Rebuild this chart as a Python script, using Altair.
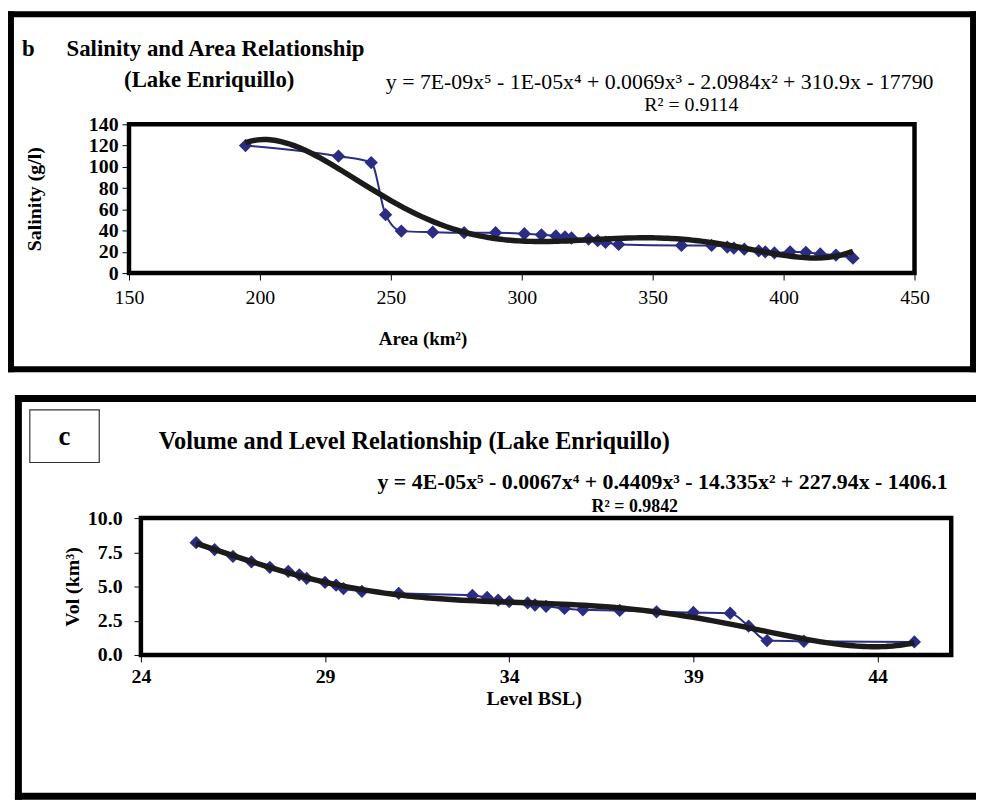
import altair as alt
import pandas as pd

# ---------------- data ----------------
# Panel b: Salinity vs Area
area = [194.5, 230, 242.5, 248, 254, 266, 278, 290, 301, 307.5, 313, 316.5, 319,
        325.5, 329, 332, 337, 361, 372.5, 378.5, 381, 385, 390.5, 393, 396.5,
        402.5, 408.5, 414, 420, 426.5]
salinity = [120, 110, 104, 55, 39.5, 38.5, 38, 38, 37, 36, 35, 34, 33,
            32, 30.5, 29, 27, 26, 26, 24.5, 23.5, 22.5, 21, 20, 19,
            20, 19.5, 18, 17, 14]

# Panel c: Volume vs Level
level = [25.5, 26, 26.5, 27, 27.5, 28, 28.3, 28.5, 29, 29.3, 29.5, 30, 31,
         33, 33.4, 33.7, 34, 34.5, 34.7, 35, 35.5, 36, 37, 38, 39, 40,
         40.5, 41, 42, 45]
volume = [8.2, 7.7, 7.2, 6.8, 6.4, 6.1, 5.85, 5.6, 5.3, 5.1, 4.85, 4.65, 4.5,
          4.35, 4.2, 4.0, 3.9, 3.8, 3.65, 3.55, 3.4, 3.3, 3.25, 3.15, 3.1, 3.05,
          2.1, 1.05, 1.0, 0.95]

b_x_ticks = [150, 200, 250, 300, 350, 400, 450]
b_y_ticks = [0, 20, 40, 60, 80, 100, 120, 140]
c_x_ticks = [24, 29, 34, 39, 44]
c_y_ticks = [0, 2.5, 5, 7.5, 10]

b_letter = "b"
b_title = ["Salinity and Area Relationship", "(Lake Enriquillo)"]
b_eq = "y = 7E-09x⁵ - 1E-05x⁴ + 0.0069x³ - 2.0984x² + 310.9x - 17790"
b_r2 = "R² = 0.9114"
c_letter = "c"
c_title = "Volume and Level Relationship (Lake Enriquillo)"
c_eq = "y = 4E-05x⁵ - 0.0067x⁴ + 0.4409x³ - 14.335x² + 227.94x - 1406.1"
c_r2 = "R² = 0.9842"

# ---------------- styling ----------------
FONT = "Liberation Serif"
NAVY = "#2B2D84"
BLACK = "#1b1b1b"

BW, BH = 792, 150      # panel b plot area
CW, CH = 829, 138      # panel c plot area (box starts 12 px in)
C_OFF = 12

dfb = pd.DataFrame({"area": area, "salinity": salinity})
dfc = pd.DataFrame({"level": level, "volume": volume})
one = pd.DataFrame({"k": [0]})


def bar(x, x2, y, y2, color="black", opacity=1.0):
    return alt.Chart(one).mark_rect(color=color, opacity=opacity).encode(
        x=alt.value(x), x2=alt.value(x2), y=alt.value(y), y2=alt.value(y2))


def box(x, x2, y, y2, sw, color="black"):
    return alt.Chart(one).mark_rect(fillOpacity=0, fill="white", stroke=color,
                                    strokeWidth=sw).encode(
        x=alt.value(x), x2=alt.value(x2), y=alt.value(y), y2=alt.value(y2))


def label(text, x, y, size, weight="bold", align="left"):
    return alt.Chart(pd.DataFrame({"t": [text]})).mark_text(
        font=FONT, fontSize=size, fontWeight=weight, align=align,
        baseline="alphabetic", color="black").encode(
        text="t:N", x=alt.value(x), y=alt.value(y))


# ---------------- panel b ----------------
xb = alt.X("area:Q", scale=alt.Scale(domain=[150, 450], nice=False, zero=False),
           axis=alt.Axis(values=b_x_ticks, title="Area (km²)", titleX=296, titleY=66,
                         titleBaseline="middle", titleFont=FONT, titleFontSize=19,
                         titleFontWeight="bold", titleColor="black",
                         labelFont=FONT, labelFontSize=20, labelFontWeight="normal",
                         labelColor="black", tickColor="black", tickSize=7,
                         labelPadding=8, domain=False, grid=False, labelFlush=False,
                         labelOverlap=False))
yb = alt.Y("salinity:Q", scale=alt.Scale(domain=[0, 140], nice=False),
           axis=alt.Axis(values=b_y_ticks, title="Salinity (g/l)", titleX=-95, titleY=75,
                         titleAngle=270, titleBaseline="middle", titleFont=FONT,
                         titleFontSize=20, titleFontWeight="bold", titleColor="black",
                         labelFont=FONT, labelFontSize=20, labelFontWeight="bold",
                         labelColor="black", tickColor="black", tickSize=7,
                         labelPadding=4, domain=False, grid=False, labelFlush=False,
                         labelOverlap=False))

b_line = alt.Chart(dfb).mark_line(color=NAVY, strokeWidth=2, interpolate="monotone").encode(x=xb, y=yb)
b_pts = alt.Chart(dfb).mark_point(shape="diamond", filled=True, size=180, color=NAVY, opacity=1).encode(x=xb, y=yb)
b_trend = alt.Chart(dfb).transform_regression("area", "salinity", method="poly", order=5).mark_line(
    color=BLACK, strokeWidth=5.5).encode(x=xb, y=yb)

panel_b = alt.layer(
    bar(-122, -116, -114, 250), bar(848, 854, -114, 250),
    bar(-122, 854, -114, -108), bar(-122, 854, 244, 250),
    label(b_letter, -108, -69, 23),
    label(b_title[0], -63, -69, 23),
    label(b_title[1], -5, -38, 23),
    label(b_eq, 535, -36, 22, weight="normal", align="center"),
    label(b_r2, 567, -13, 20, weight="normal", align="center"),
    b_line, b_pts, b_trend,
    box(0, BW, 0, BH, 4.5),
).properties(width=BW, height=BH)

# ---------------- panel c ----------------
xc = alt.X("level:Q", scale=alt.Scale(domain=[24, 46], range=[C_OFF, CW], nice=False, zero=False),
           axis=alt.Axis(values=c_x_ticks, title="Level BSL)", titleX=408, titleY=44,
                         titleBaseline="middle", titleFont=FONT, titleFontSize=20,
                         titleFontWeight="bold", titleColor="black",
                         labelFont=FONT, labelFontSize=20, labelFontWeight="bold",
                         labelColor="black", tickColor="black", tickSize=7,
                         labelPadding=5, domain=False, grid=False, labelFlush=False,
                         labelOverlap=False))
yc = alt.Y("volume:Q", scale=alt.Scale(domain=[0, 10], nice=False),
           axis=alt.Axis(values=c_y_ticks, format=".1f", title="Vol (km³)", offset=-C_OFF,
                         titleX=-69, titleY=69, titleAngle=270, titleBaseline="middle",
                         titleFont=FONT, titleFontSize=20, titleFontWeight="bold",
                         titleColor="black", labelFont=FONT, labelFontSize=20,
                         labelFontWeight="bold", labelColor="black", tickColor="black",
                         tickSize=7, labelPadding=12, domain=False, grid=False,
                         labelFlush=False, labelOverlap=False))

c_line = alt.Chart(dfc).mark_line(color=NAVY, strokeWidth=2, interpolate="monotone").encode(x=xc, y=yc)
c_pts = alt.Chart(dfc).mark_point(shape="diamond", filled=True, size=180, color=NAVY, opacity=1).encode(x=xc, y=yc)
c_trend = alt.Chart(dfc).transform_regression("level", "volume", method="poly", order=5).mark_line(
    color=BLACK, strokeWidth=5.5).encode(x=xc, y=yc)

panel_c = alt.layer(
    bar(-122, -121, -124, -123, color="white", opacity=0),
    bar(-115, -108, -124, 284), bar(-115, 854, -124, -117), bar(-115, 854, 277, 284),
    box(-100, -30, -109, -56, 1.2, color="#333333"),
    label(c_letter, -65, -74, 27, align="center"),
    label(c_title, 30, -70, 24.5),
    label(c_eq, 538, -29, 22, align="center"),
    label(c_r2, 510, -6, 18, align="center"),
    c_line, c_pts, c_trend,
    box(C_OFF, CW, 0, CH, 4.5),
).properties(width=CW, height=CH)

chart = alt.vconcat(panel_b, panel_c, spacing=23).properties(
    padding={"left": 0, "top": 0, "right": 0, "bottom": 0},
    background="white",
).configure_view(stroke=None)

chart.save("out.html", embed_options={"renderer": "svg", "actions": False})
